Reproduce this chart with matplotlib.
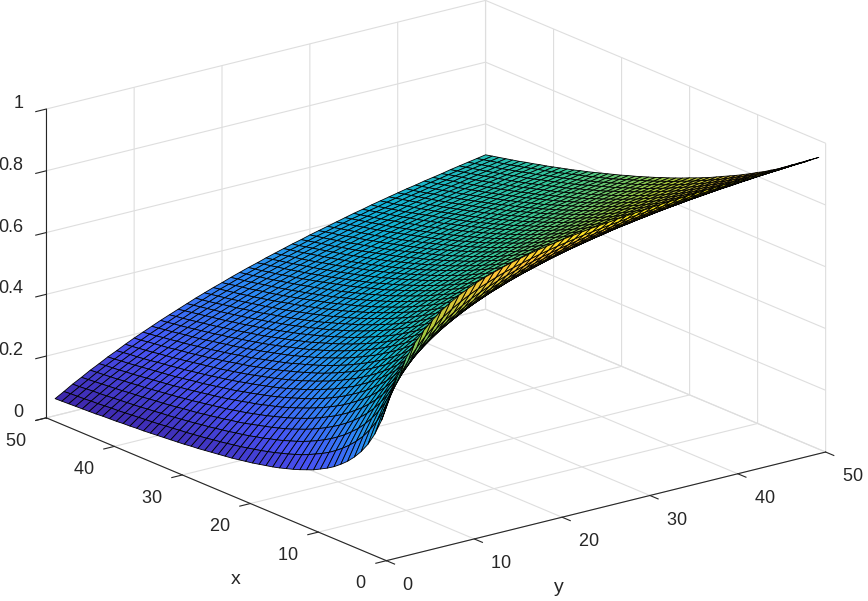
import matplotlib
matplotlib.use('Agg')
import matplotlib.pyplot as plt
import numpy as np
from matplotlib.colors import LinearSegmentedColormap

plt.rcParams['font.family'] = ['Liberation Sans', 'DejaVu Sans']

# one mesh line per unit
x_vals = list(range(1, 51))
y_vals = list(range(1, 51))

# surface height, one row per x value, one column per y value
z_vals = [
    [.500,.571,.625,.667,.700,.727,.750,.769,.786,.800,.813,.824,.833,.842,.850,.857,.864,.870,.875,.880,.885,.889,.893,.897,.900,.903,.906,.909,.912,.914,.917,.919,.921,.923,.925,.927,.929,.930,.932,.933,.935,.936,.938,.939,.940,.941,.942,.943,.944,.945],
    [.429,.500,.556,.600,.636,.667,.692,.714,.733,.750,.765,.778,.789,.800,.810,.818,.826,.833,.840,.846,.852,.857,.862,.867,.871,.875,.879,.882,.886,.889,.892,.895,.897,.900,.902,.905,.907,.909,.911,.913,.915,.917,.918,.920,.922,.923,.925,.926,.927,.929],
    [.375,.444,.500,.545,.583,.615,.643,.667,.688,.706,.722,.737,.750,.762,.773,.783,.792,.800,.808,.815,.821,.828,.833,.839,.844,.848,.853,.857,.861,.865,.868,.872,.875,.878,.881,.884,.886,.889,.891,.894,.896,.898,.900,.902,.904,.906,.907,.909,.911,.912],
    [.333,.400,.455,.500,.538,.571,.600,.625,.647,.667,.684,.700,.714,.727,.739,.750,.760,.769,.778,.786,.793,.800,.806,.813,.818,.824,.829,.833,.838,.842,.846,.850,.854,.857,.860,.864,.867,.870,.872,.875,.878,.880,.882,.885,.887,.889,.891,.893,.895,.897],
    [.300,.364,.417,.462,.500,.533,.563,.588,.611,.632,.650,.667,.682,.696,.708,.720,.731,.741,.750,.759,.767,.774,.781,.788,.794,.800,.806,.811,.816,.821,.825,.829,.833,.837,.841,.844,.848,.851,.854,.857,.860,.863,.865,.868,.870,.873,.875,.877,.879,.881],
    [.273,.333,.385,.429,.467,.500,.529,.556,.579,.600,.619,.636,.652,.667,.680,.692,.704,.714,.724,.733,.742,.750,.758,.765,.771,.778,.784,.789,.795,.800,.805,.810,.814,.818,.822,.826,.830,.833,.837,.840,.843,.846,.849,.852,.855,.857,.860,.862,.864,.867],
    [.250,.308,.357,.400,.438,.471,.500,.526,.550,.571,.591,.609,.625,.640,.654,.667,.679,.690,.700,.710,.719,.727,.735,.743,.750,.757,.763,.769,.775,.780,.786,.791,.795,.800,.804,.809,.813,.816,.820,.824,.827,.830,.833,.836,.839,.842,.845,.847,.850,.852],
    [.231,.286,.333,.375,.412,.444,.474,.500,.524,.545,.565,.583,.600,.615,.630,.643,.655,.667,.677,.688,.697,.706,.714,.722,.730,.737,.744,.750,.756,.762,.767,.773,.778,.783,.787,.792,.796,.800,.804,.808,.811,.815,.818,.821,.825,.828,.831,.833,.836,.839],
    [.214,.267,.313,.353,.389,.421,.450,.476,.500,.522,.542,.560,.577,.593,.607,.621,.633,.645,.656,.667,.676,.686,.694,.703,.711,.718,.725,.732,.738,.744,.750,.756,.761,.766,.771,.776,.780,.784,.788,.792,.796,.800,.804,.807,.810,.814,.817,.820,.823,.825],
    [.200,.250,.294,.333,.368,.400,.429,.455,.478,.500,.520,.538,.556,.571,.586,.600,.613,.625,.636,.647,.657,.667,.676,.684,.692,.700,.707,.714,.721,.727,.733,.739,.745,.750,.755,.760,.765,.769,.774,.778,.782,.786,.789,.793,.797,.800,.803,.806,.810,.813],
    [.188,.235,.278,.316,.350,.381,.409,.435,.458,.480,.500,.519,.536,.552,.567,.581,.594,.606,.618,.629,.639,.649,.658,.667,.675,.683,.690,.698,.705,.711,.717,.723,.729,.735,.740,.745,.750,.755,.759,.764,.768,.772,.776,.780,.783,.787,.790,.794,.797,.800],
    [.176,.222,.263,.300,.333,.364,.391,.417,.440,.462,.481,.500,.517,.533,.548,.563,.576,.588,.600,.611,.622,.632,.641,.650,.659,.667,.674,.682,.689,.696,.702,.708,.714,.720,.725,.731,.736,.741,.745,.750,.754,.759,.763,.767,.770,.774,.778,.781,.785,.788],
    [.167,.211,.250,.286,.318,.348,.375,.400,.423,.444,.464,.483,.500,.516,.531,.545,.559,.571,.583,.595,.605,.615,.625,.634,.643,.651,.659,.667,.674,.681,.688,.694,.700,.706,.712,.717,.722,.727,.732,.737,.741,.746,.750,.754,.758,.762,.766,.769,.773,.776],
    [.158,.200,.238,.273,.304,.333,.360,.385,.407,.429,.448,.467,.484,.500,.515,.529,.543,.556,.568,.579,.590,.600,.610,.619,.628,.636,.644,.652,.660,.667,.673,.680,.686,.692,.698,.704,.709,.714,.719,.724,.729,.733,.738,.742,.746,.750,.754,.758,.761,.765],
    [.150,.190,.227,.261,.292,.320,.346,.370,.393,.414,.433,.452,.469,.485,.500,.514,.528,.541,.553,.564,.575,.585,.595,.605,.614,.622,.630,.638,.646,.653,.660,.667,.673,.679,.685,.691,.696,.702,.707,.712,.717,.721,.726,.730,.734,.738,.742,.746,.750,.754],
    [.143,.182,.217,.250,.280,.308,.333,.357,.379,.400,.419,.438,.455,.471,.486,.500,.514,.526,.538,.550,.561,.571,.581,.591,.600,.609,.617,.625,.633,.640,.647,.654,.660,.667,.673,.679,.684,.690,.695,.700,.705,.710,.714,.719,.723,.727,.731,.735,.739,.743],
    [.136,.174,.208,.240,.269,.296,.321,.345,.367,.387,.406,.424,.441,.457,.472,.486,.500,.513,.525,.537,.548,.558,.568,.578,.587,.596,.604,.612,.620,.627,.635,.642,.648,.655,.661,.667,.672,.678,.683,.688,.694,.698,.703,.708,.712,.716,.721,.725,.729,.732],
    [.130,.167,.200,.231,.259,.286,.310,.333,.355,.375,.394,.412,.429,.444,.459,.474,.487,.500,.512,.524,.535,.545,.556,.565,.574,.583,.592,.600,.608,.615,.623,.630,.636,.643,.649,.655,.661,.667,.672,.677,.683,.688,.692,.697,.701,.706,.710,.714,.718,.722],
    [.125,.160,.192,.222,.250,.276,.300,.323,.344,.364,.382,.400,.417,.432,.447,.462,.475,.488,.500,.512,.523,.533,.543,.553,.563,.571,.580,.588,.596,.604,.611,.618,.625,.632,.638,.644,.650,.656,.661,.667,.672,.677,.682,.687,.691,.696,.700,.704,.708,.712],
    [.120,.154,.185,.214,.241,.267,.290,.313,.333,.353,.371,.389,.405,.421,.436,.450,.463,.476,.488,.500,.511,.522,.532,.542,.551,.560,.569,.577,.585,.593,.600,.607,.614,.621,.627,.633,.639,.645,.651,.656,.662,.667,.672,.676,.681,.686,.690,.694,.699,.703],
    [.115,.148,.179,.207,.233,.258,.281,.303,.324,.343,.361,.378,.395,.410,.425,.439,.452,.465,.477,.489,.500,.511,.521,.531,.540,.549,.558,.566,.574,.582,.589,.596,.603,.610,.617,.623,.629,.635,.641,.646,.652,.657,.662,.667,.671,.676,.681,.685,.689,.693],
    [.111,.143,.172,.200,.226,.250,.273,.294,.314,.333,.351,.368,.385,.400,.415,.429,.442,.455,.467,.478,.489,.500,.510,.520,.529,.538,.547,.556,.564,.571,.579,.586,.593,.600,.607,.613,.619,.625,.631,.636,.642,.647,.652,.657,.662,.667,.671,.676,.680,.684],
    [.107,.138,.167,.194,.219,.242,.265,.286,.306,.324,.342,.359,.375,.390,.405,.419,.432,.444,.457,.468,.479,.490,.500,.510,.519,.528,.537,.545,.554,.561,.569,.576,.583,.590,.597,.603,.609,.615,.621,.627,.632,.638,.643,.648,.653,.658,.662,.667,.671,.675],
    [.103,.133,.161,.188,.212,.235,.257,.278,.297,.316,.333,.350,.366,.381,.395,.409,.422,.435,.447,.458,.469,.480,.490,.500,.509,.519,.527,.536,.544,.552,.559,.567,.574,.581,.587,.594,.600,.606,.612,.618,.623,.629,.634,.639,.644,.649,.653,.658,.662,.667],
    [.100,.129,.156,.182,.206,.229,.250,.270,.289,.308,.325,.341,.357,.372,.386,.400,.413,.426,.438,.449,.460,.471,.481,.491,.500,.509,.518,.526,.534,.542,.550,.557,.565,.571,.578,.585,.591,.597,.603,.609,.614,.620,.625,.630,.635,.640,.645,.649,.654,.658],
    [.097,.125,.152,.176,.200,.222,.243,.263,.282,.300,.317,.333,.349,.364,.378,.391,.404,.417,.429,.440,.451,.462,.472,.481,.491,.500,.509,.517,.525,.533,.541,.548,.556,.563,.569,.576,.582,.588,.594,.600,.606,.611,.616,.622,.627,.632,.636,.641,.646,.650],
    [.094,.121,.147,.171,.194,.216,.237,.256,.275,.293,.310,.326,.341,.356,.370,.383,.396,.408,.420,.431,.442,.453,.463,.473,.482,.491,.500,.508,.517,.525,.532,.540,.547,.554,.561,.567,.574,.580,.586,.592,.597,.603,.608,.613,.618,.623,.628,.633,.638,.642],
    [.091,.118,.143,.167,.189,.211,.231,.250,.268,.286,.302,.318,.333,.348,.362,.375,.388,.400,.412,.423,.434,.444,.455,.464,.474,.483,.492,.500,.508,.516,.524,.531,.538,.545,.552,.559,.565,.571,.577,.583,.589,.595,.600,.605,.610,.615,.620,.625,.630,.634],
    [.088,.114,.139,.162,.184,.205,.225,.244,.262,.279,.295,.311,.326,.340,.354,.367,.380,.392,.404,.415,.426,.436,.446,.456,.466,.475,.483,.492,.500,.508,.516,.523,.530,.537,.544,.551,.557,.563,.569,.575,.581,.587,.592,.597,.603,.608,.613,.617,.622,.627],
    [.086,.111,.135,.158,.179,.200,.220,.238,.256,.273,.289,.304,.319,.333,.347,.360,.373,.385,.396,.407,.418,.429,.438,.448,.458,.467,.475,.484,.492,.500,.508,.515,.522,.529,.536,.543,.549,.556,.562,.568,.573,.579,.584,.590,.595,.600,.605,.610,.614,.619],
    [.083,.108,.132,.154,.175,.195,.214,.233,.250,.267,.283,.298,.313,.327,.340,.353,.365,.377,.389,.400,.411,.421,.431,.441,.450,.459,.468,.476,.484,.492,.500,.507,.515,.522,.529,.535,.542,.548,.554,.560,.566,.571,.577,.582,.588,.593,.598,.602,.607,.612],
    [.081,.105,.128,.150,.171,.190,.209,.227,.244,.261,.277,.292,.306,.320,.333,.346,.358,.370,.382,.393,.403,.414,.424,.433,.443,.452,.460,.469,.477,.485,.493,.500,.507,.514,.521,.528,.534,.541,.547,.553,.558,.564,.570,.575,.580,.585,.590,.595,.600,.605],
    [.079,.103,.125,.146,.167,.186,.205,.222,.239,.255,.271,.286,.300,.314,.327,.340,.352,.364,.375,.386,.397,.407,.417,.426,.435,.444,.453,.462,.470,.478,.485,.493,.500,.507,.514,.521,.527,.533,.539,.545,.551,.557,.563,.568,.573,.578,.583,.588,.593,.598],
    [.077,.100,.122,.143,.163,.182,.200,.217,.234,.250,.265,.280,.294,.308,.321,.333,.345,.357,.368,.379,.390,.400,.410,.419,.429,.438,.446,.455,.463,.471,.478,.486,.493,.500,.507,.514,.520,.526,.532,.538,.544,.550,.556,.561,.566,.571,.576,.581,.586,.591],
    [.075,.098,.119,.140,.159,.178,.196,.213,.229,.245,.260,.275,.288,.302,.315,.327,.339,.351,.362,.373,.383,.393,.403,.413,.422,.431,.439,.448,.456,.464,.471,.479,.486,.493,.500,.507,.513,.519,.526,.532,.538,.543,.549,.554,.560,.565,.570,.575,.580,.584],
    [.073,.095,.116,.136,.156,.174,.191,.208,.224,.240,.255,.269,.283,.296,.309,.321,.333,.345,.356,.367,.377,.387,.397,.406,.415,.424,.433,.441,.449,.457,.465,.472,.479,.486,.493,.500,.506,.513,.519,.525,.531,.537,.542,.548,.553,.558,.563,.568,.573,.578],
    [.071,.093,.114,.133,.152,.170,.188,.204,.220,.235,.250,.264,.278,.291,.304,.316,.328,.339,.350,.361,.371,.381,.391,.400,.409,.418,.426,.435,.443,.451,.458,.466,.473,.480,.487,.494,.500,.506,.513,.519,.524,.530,.536,.541,.547,.552,.557,.562,.567,.571],
    [.070,.091,.111,.130,.149,.167,.184,.200,.216,.231,.245,.259,.273,.286,.298,.310,.322,.333,.344,.355,.365,.375,.385,.394,.403,.412,.420,.429,.437,.444,.452,.459,.467,.474,.481,.487,.494,.500,.506,.512,.518,.524,.529,.535,.540,.545,.551,.556,.560,.565],
    [.068,.089,.109,.128,.146,.163,.180,.196,.212,.226,.241,.255,.268,.281,.293,.305,.317,.328,.339,.349,.359,.369,.379,.388,.397,.406,.414,.423,.431,.438,.446,.453,.461,.468,.474,.481,.488,.494,.500,.506,.512,.518,.523,.529,.534,.539,.544,.549,.554,.559],
    [.067,.087,.106,.125,.143,.160,.176,.192,.208,.222,.236,.250,.263,.276,.288,.300,.311,.323,.333,.344,.354,.364,.373,.382,.391,.400,.408,.417,.425,.432,.440,.447,.455,.462,.468,.475,.481,.488,.494,.500,.506,.512,.517,.523,.528,.533,.538,.543,.548,.553],
    [.065,.085,.104,.122,.140,.157,.173,.189,.204,.218,.232,.246,.259,.271,.283,.295,.306,.317,.328,.338,.348,.358,.368,.377,.386,.394,.403,.411,.419,.427,.434,.442,.449,.456,.463,.469,.476,.482,.488,.494,.500,.506,.511,.517,.522,.527,.533,.538,.543,.547],
    [.064,.083,.102,.120,.137,.154,.170,.185,.200,.214,.228,.241,.254,.267,.279,.290,.302,.313,.323,.333,.343,.353,.362,.371,.380,.389,.397,.405,.413,.421,.429,.436,.443,.450,.457,.463,.470,.476,.482,.488,.494,.500,.506,.511,.516,.522,.527,.532,.537,.542],
    [.063,.082,.100,.118,.135,.151,.167,.182,.196,.211,.224,.237,.250,.262,.274,.286,.297,.308,.318,.328,.338,.348,.357,.366,.375,.384,.392,.400,.408,.416,.423,.430,.438,.444,.451,.458,.464,.471,.477,.483,.489,.494,.500,.505,.511,.516,.521,.526,.531,.536],
    [.061,.080,.098,.115,.132,.148,.164,.179,.193,.207,.220,.233,.246,.258,.270,.281,.292,.303,.313,.324,.333,.343,.352,.361,.370,.378,.387,.395,.403,.410,.418,.425,.432,.439,.446,.452,.459,.465,.471,.477,.483,.489,.495,.500,.505,.511,.516,.521,.526,.531],
    [.060,.078,.096,.113,.130,.145,.161,.175,.190,.203,.217,.230,.242,.254,.266,.277,.288,.299,.309,.319,.329,.338,.347,.356,.365,.373,.382,.390,.397,.405,.413,.420,.427,.434,.440,.447,.453,.460,.466,.472,.478,.484,.489,.495,.500,.505,.510,.515,.520,.525],
    [.059,.077,.094,.111,.127,.143,.158,.172,.186,.200,.213,.226,.238,.250,.262,.273,.284,.294,.304,.314,.324,.333,.342,.351,.360,.368,.377,.385,.392,.400,.407,.415,.422,.429,.435,.442,.448,.455,.461,.467,.473,.478,.484,.489,.495,.500,.505,.510,.515,.520],
    [.058,.075,.093,.109,.125,.140,.155,.169,.183,.197,.210,.222,.234,.246,.258,.269,.279,.290,.300,.310,.319,.329,.338,.347,.355,.364,.372,.380,.388,.395,.402,.410,.417,.424,.430,.437,.443,.449,.456,.462,.467,.473,.479,.484,.490,.495,.500,.505,.510,.515],
    [.057,.074,.091,.107,.123,.138,.153,.167,.180,.194,.206,.219,.231,.242,.254,.265,.275,.286,.296,.306,.315,.324,.333,.342,.351,.359,.367,.375,.383,.390,.398,.405,.412,.419,.425,.432,.438,.444,.451,.457,.462,.468,.474,.479,.485,.490,.495,.500,.505,.510],
    [.056,.073,.089,.105,.121,.136,.150,.164,.177,.190,.203,.215,.227,.239,.250,.261,.271,.282,.292,.301,.311,.320,.329,.338,.346,.354,.363,.370,.378,.386,.393,.400,.407,.414,.420,.427,.433,.440,.446,.452,.457,.463,.469,.474,.480,.485,.490,.495,.500,.505],
    [.055,.071,.088,.103,.119,.133,.148,.161,.175,.188,.200,.212,.224,.235,.246,.257,.268,.278,.288,.297,.307,.316,.325,.333,.342,.350,.358,.366,.373,.381,.388,.395,.402,.409,.416,.422,.429,.435,.441,.447,.453,.458,.464,.469,.474,.480,.485,.490,.495,.500],
]

xy_ticks = [0, 10, 20, 30, 40, 50]
x_ticklabels = ['0 ', '10 ', '20 ', '30 ', '40 ', '50 ']
y_ticklabels = [' 0', ' 10', ' 20', ' 30', ' 40', ' 50']
z_ticks = [0, 0.2, 0.4, 0.6, 0.8, 1]
z_ticklabels = ['0', '0.2', '0.4', '0.6', '0.8', '1']

parula = LinearSegmentedColormap.from_list('parula', [
    (0.2422, 0.1504, 0.6603), (0.2810, 0.3228, 0.9579), (0.1786, 0.5289, 0.9682),
    (0.0689, 0.6948, 0.8394), (0.2161, 0.7843, 0.5923), (0.6720, 0.7793, 0.2227),
    (0.9970, 0.7659, 0.2199), (0.9769, 0.9839, 0.0805)])

W, H = 868, 601
fig = plt.figure(figsize=(W / 100, H / 100), dpi=100)
ax = fig.add_subplot(111, projection='3d')

# square axes placed so the box lands where the reference has it
S = 826.6
cx, cy = 424.8, 309.3
ax.set_position([(cx - S / 2) / W, (cy - S / 2) / H, S / W, S / H])
ax.set_proj_type('ortho')
ax.view_init(elev=18.8, azim=-37.5)
ax.set_box_aspect((560, 555, 327))
ax.patch.set_alpha(0)

ax.set_xlim(50, 0, view_margin=0)
ax.set_ylim(0, 50, view_margin=0)
ax.set_zlim(0, 1, view_margin=0)

X, Y = np.meshgrid(x_vals, y_vals, indexing='ij')
ax.plot_surface(X, Y, np.array(z_vals), cmap=parula, vmin=0.055, vmax=0.945,
                rcount=50, ccount=50, edgecolor='k', linewidth=0.6, shade=False)

ax.set_xticks(xy_ticks)
ax.set_xticklabels(x_ticklabels)
ax.set_yticks(xy_ticks)
ax.set_yticklabels(y_ticklabels)
ax.set_zticks(z_ticks)
ax.set_zticklabels(z_ticklabels)
ax.zaxis.set_ticks_position('lower')

dark = (0.15, 0.15, 0.15)
for axis in (ax.xaxis, ax.yaxis, ax.zaxis):
    axis.set_pane_color((1, 1, 1, 0))
    axis.pane.set_edgecolor((0.8, 0.8, 0.8))
    axis.pane.set_linewidth(0.8)
    axis.line.set_color(dark)
    axis.line.set_linewidth(0.8)
    axis._axinfo['grid'].update(color=(0.87, 0.87, 0.87), linewidth=0.8)
    axis._axinfo['tick'].update(inward_factor=0.3, outward_factor=0, linewidth={True: 0.8, False: 0.8}, color=dark)
ax.tick_params(labelsize=13, labelcolor=dark, color=dark, pad=3)
ax.tick_params(axis='z', pad=1)
for t in ax.get_xticklabels():
    t.set_ha('right')
for t in ax.get_yticklabels():
    t.set_ha('left')
for t in ax.get_zticklabels():
    t.set_ha('right')
    t.set_va('baseline')

fig.text(236 / W, 1 - 580 / H, 'x', fontsize=14, color=dark, ha='center', va='center')
fig.text(559 / W, 1 - 587 / H, 'y', fontsize=14, color=dark, ha='center', va='center')

fig.savefig('out.png', dpi=100)
